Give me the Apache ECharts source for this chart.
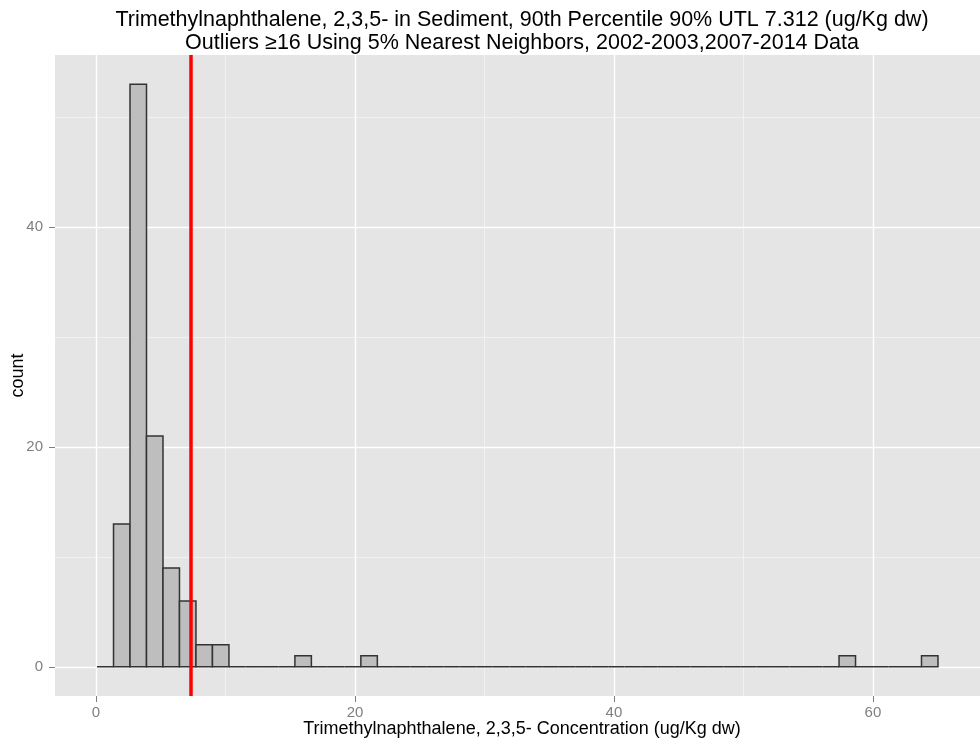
<!DOCTYPE html>
<html>
<head>
<meta charset="utf-8">
<script src="https://cdn.jsdelivr.net/npm/echarts@6/dist/echarts.min.js"></script>
<style>
  html, body { margin: 0; padding: 0; background: #ffffff; }
  #chart { width: 980px; height: 742px; }
</style>
</head>
<body>
<div id="chart"></div>
<script>
// Histogram bins: first lower edge and common width (ug/Kg dw)
const binStart = 0.076;
const binWidth = 1.2735;
// Sample count in each bin, left to right
const binCounts = [
  0, 13, 53, 21, 9, 6, 2, 2, 0, 0,
  0, 0, 1, 0, 0, 0, 1, 0, 0, 0,
  0, 0, 0, 0, 0, 0, 0, 0, 0, 0,
  0, 0, 0, 0, 0, 0, 0, 0, 0, 0,
  0, 0, 0, 0, 0, 1, 0, 0, 0, 0,
  1
];
// 90th percentile 90% upper tolerance limit
const utlValue = 7.312;

const xMajorTicks = [0, 20, 40, 60];
const xMinorTicks = [10, 30, 50];
const yMajorTicks = [0, 20, 40];
const yMinorTicks = [10, 30, 50];

const titleLines = [
  'Trimethylnaphthalene, 2,3,5- in Sediment, 90th Percentile 90% UTL 7.312 (ug/Kg dw)',
  'Outliers \u226516 Using 5% Nearest Neighbors, 2002-2003,2007-2014 Data'
];
const xTitle = 'Trimethylnaphthalene, 2,3,5- Concentration (ug/Kg dw)';
const yTitle = 'count';

const FONT = '"Liberation Sans", Arial, Helvetica, sans-serif';

const histData = binCounts.map((c, i) => [binStart + i * binWidth, binStart + (i + 1) * binWidth, c]);

const minorStyle = { color: '#F2F2F2', width: 0.9, type: 'solid' };
const majorStyle = { color: '#FFFFFF', width: 1.4, type: 'solid' };
const gridLines = []
  .concat(xMinorTicks.map(v => ({ xAxis: v, lineStyle: minorStyle })))
  .concat(yMinorTicks.map(v => ({ yAxis: v, lineStyle: minorStyle })))
  .concat(xMajorTicks.map(v => ({ xAxis: v, lineStyle: majorStyle })))
  .concat(yMajorTicks.map(v => ({ yAxis: v, lineStyle: majorStyle })));

const chart = echarts.init(document.getElementById('chart'), null, { renderer: 'canvas' });

const panelLeft = 55, panelRight = 989, panelTop = 55, panelBottom = 696;
const panelCenterX = (panelLeft + panelRight) / 2;

const tickStyle = { color: '#7F7F7F', width: 1 };

chart.setOption({
  animation: false,
  backgroundColor: '#FFFFFF',
  grid: {
    left: panelLeft,
    right: 980 - panelRight,
    top: panelTop,
    bottom: 742 - panelBottom,
    show: true,
    backgroundColor: '#E5E5E5',
    borderWidth: 0,
    containLabel: false
  },
  xAxis: {
    type: 'value',
    min: -3.17,
    max: 68.27,
    axisLine: { show: false, onZero: false },
    splitLine: { show: false },
    axisTick: {
      show: true, length: 6, inside: false,
      lineStyle: tickStyle,
      customValues: xMajorTicks
    },
    axisLabel: {
      show: true, margin: 9, color: '#808080', fontSize: 15, fontFamily: FONT,
      customValues: xMajorTicks
    }
  },
  yAxis: {
    type: 'value',
    min: -2.65,
    max: 55.65,
    axisLine: { show: false, onZero: false },
    splitLine: { show: false },
    axisTick: {
      show: true, length: 6, inside: false,
      lineStyle: tickStyle,
      customValues: yMajorTicks
    },
    axisLabel: {
      show: true, margin: 12, color: '#808080', fontSize: 15, fontFamily: FONT,
      customValues: yMajorTicks
    }
  },
  series: [
    {
      name: 'grid',
      type: 'line',
      data: [],
      z: 1,
      silent: true,
      markLine: {
        silent: true,
        symbol: ['none', 'none'],
        label: { show: false },
        z: 1,
        animation: false,
        data: gridLines
      }
    },
    {
      name: 'count',
      type: 'custom',
      z: 2,
      data: histData,
      encode: { x: [0, 1], y: 2 },
      renderItem: function (params, api) {
        const topLeft = api.coord([api.value(0), api.value(2)]);
        const bottomRight = api.coord([api.value(1), 0]);
        return {
          type: 'rect',
          shape: {
            x: topLeft[0],
            y: topLeft[1],
            width: bottomRight[0] - topLeft[0],
            height: bottomRight[1] - topLeft[1]
          },
          style: { fill: '#BEBEBE', stroke: '#333333', lineWidth: 1.5 }
        };
      }
    },
    {
      name: 'UTL',
      type: 'line',
      data: [],
      z: 3,
      markLine: {
        silent: true,
        symbol: ['none', 'none'],
        label: { show: false },
        z: 3,
        animation: false,
        lineStyle: { color: '#FF0000', width: 3.5, type: 'solid' },
        data: [{ xAxis: utlValue }]
      }
    }
  ],
  graphic: [
    {
      type: 'text', x: panelCenterX, y: 20.5,
      style: { text: titleLines[0], font: '21.5px ' + FONT, fill: '#000000', align: 'center', verticalAlign: 'middle' }
    },
    {
      type: 'text', x: panelCenterX, y: 43.5,
      style: { text: titleLines[1], font: '21.5px ' + FONT, fill: '#000000', align: 'center', verticalAlign: 'middle' }
    },
    {
      type: 'text', x: panelCenterX, y: 729.5,
      style: { text: xTitle, font: '18px ' + FONT, fill: '#000000', align: 'center', verticalAlign: 'middle' }
    },
    {
      type: 'text', x: 18.5, y: (panelTop + panelBottom) / 2, rotation: Math.PI / 2,
      style: { text: yTitle, font: '18px ' + FONT, fill: '#000000', align: 'center', verticalAlign: 'middle' }
    }
  ]
});
</script>
</body>
</html>
